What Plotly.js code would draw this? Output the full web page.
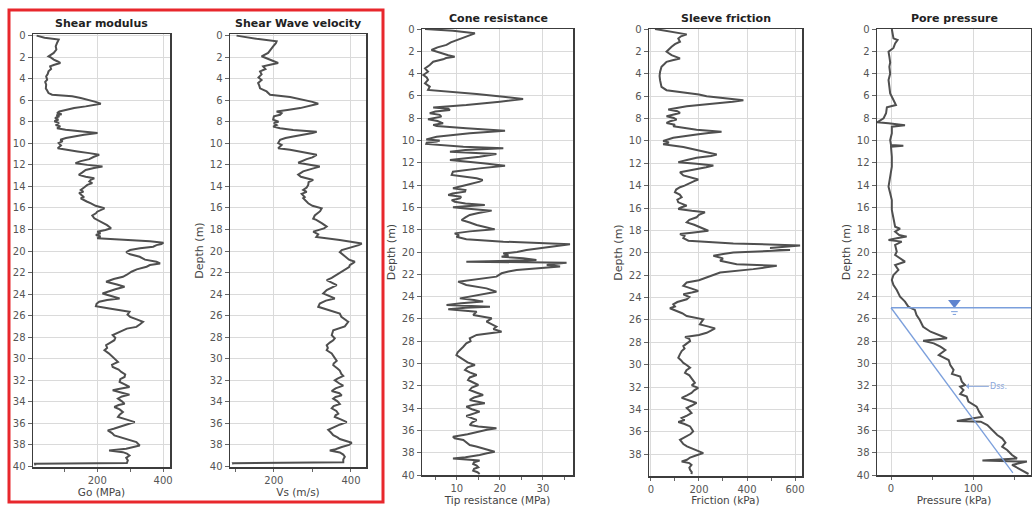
<!DOCTYPE html>
<html><head><meta charset="utf-8">
<script src="https://cdn.plot.ly/plotly-3.0.1.min.js"></script>
<style>html,body{margin:0;padding:0;background:#fff}#chart{width:1032px;height:506px}</style>
</head><body><div id="chart"></div>
<script>
// ---------- DATA ----------
const goDepth = [0,0.2,0.37,0.5,0.68,1.0,1.3,1.61,1.92,2.05,2.23,2.4,2.54,2.7,2.85,3.1,3.32,3.55,3.78,4.1,4.3,4.56,4.9,5.1,5.33,5.49,5.64,5.8,5.95,6.15,6.33,6.45,6.57,6.72,6.88,7.05,7.19,7.3,7.4,7.5,7.65,7.81,7.95,8.12,8.3,8.43,8.6,8.74,8.9,9.05,9.2,9.36,9.5,9.67,9.8,9.98,10.2,10.45,10.6,10.75,10.91,11.07,11.25,11.47,11.65,11.84,12.0,12.16,12.3,12.47,12.7,12.93,13.1,13.24,13.4,13.55,13.7,13.86,14.1,14.33,14.5,14.6,14.79,15.0,15.1,15.26,15.4,15.57,15.8,16.03,16.2,16.35,16.5,16.7,16.96,17.2,17.43,17.6,17.89,18.05,18.2,18.35,18.51,18.65,18.82,18.98,19.1,19.22,19.35,19.45,19.6,19.75,19.91,20.1,20.3,20.53,20.8,21.0,21.15,21.3,21.46,21.7,21.92,22.2,22.39,22.6,22.85,23.1,23.32,23.55,23.78,23.94,24.2,24.4,24.55,24.71,24.9,25.12,25.33,25.5,25.64,25.9,26.11,26.35,26.57,26.8,27.04,27.2,27.35,27.6,27.81,28.05,28.28,28.5,28.74,29.0,29.21,29.5,29.83,30.05,30.29,30.55,30.76,31.0,31.22,31.45,31.69,31.9,32.16,32.4,32.62,32.8,32.93,33.15,33.33,33.5,33.7,33.95,34.17,34.3,34.48,34.7,34.95,35.2,35.41,35.65,35.88,36.1,36.34,36.5,36.65,36.9,37.12,37.43,37.74,38.05,38.2,38.36,38.51,38.67,38.8,38.98,39.2,39.44,39.69,39.75,39.9];
const goVal = [16,40,83,80,78,74,76,68,52,60,68,80,88,70,57,60,52,50,45,48,42,45,44,48,52,63,124,150,170,195,211,190,165,130,104,85,78,92,76,85,72,82,70,84,74,88,78,104,155,201,160,124,105,88,95,83,90,80,119,140,176,206,190,176,150,134,170,216,190,165,155,144,165,191,180,176,185,170,160,150,158,145,152,160,150,158,168,181,195,222,210,200,196,185,191,205,216,230,242,225,200,210,196,210,200,309,360,401,395,380,370,330,300,288,300,329,345,380,391,360,350,320,304,290,278,250,227,260,283,255,227,216,245,268,230,206,198,196,237,270,298,292,300,320,339,330,319,290,278,260,247,255,252,240,227,230,222,235,247,255,263,245,247,265,273,285,283,270,268,285,298,265,247,275,298,275,263,275,283,265,252,268,278,268,263,290,314,290,268,250,232,245,252,283,319,329,310,288,236,278,290,298,288,293,290,11,12];

const vsDepth = [0,0.3,0.53,0.7,0.99,1.3,1.61,1.92,2.1,2.39,2.54,2.7,2.85,3.1,3.32,3.6,3.88,4.12,4.4,4.65,4.9,5.18,5.49,5.7,5.95,6.15,6.33,6.5,6.73,6.9,7.04,7.2,7.35,7.5,7.81,8.0,8.12,8.3,8.45,8.6,8.77,8.93,9.05,9.36,9.5,9.67,9.98,10.15,10.45,10.6,10.9,11.07,11.3,11.47,11.8,12.0,12.16,12.35,12.6,12.9,13.1,13.4,13.6,13.86,14.1,14.33,14.5,14.7,15.0,15.1,15.4,15.57,15.8,16.03,16.3,16.7,17.0,17.1,17.43,17.73,17.9,18.2,18.45,18.7,18.98,19.2,19.3,19.45,19.6,19.75,19.91,20.1,20.3,20.53,20.8,21.0,21.15,21.3,21.5,21.82,22.23,22.5,22.7,23.0,23.16,23.4,23.63,23.94,24.2,24.4,24.6,24.87,25.18,25.33,25.49,25.8,26.1,26.26,26.5,26.57,27.0,27.35,27.6,27.81,28.1,28.28,28.5,28.74,29.0,29.21,29.5,29.7,29.9,30.2,30.45,30.6,30.9,31.1,31.4,31.6,31.85,32.0,32.3,32.5,32.75,33.0,33.2,33.4,33.55,33.7,33.95,34.2,34.4,34.6,34.85,35.1,35.25,35.4,35.65,35.88,36.1,36.34,36.6,36.85,37.1,37.3,37.45,37.8,38.0,38.2,38.4,38.51,38.7,38.9,39.1,39.35,39.6,39.7,39.8];
const vsVal = [103,155,207,205,198,192,185,168,180,198,211,190,172,178,164,168,160,168,159,162,164,181,190,242,276,300,315,295,268,235,207,220,216,200,198,212,200,207,198,216,250,311,300,250,230,216,211,220,211,242,290,311,300,285,263,290,319,300,276,263,270,302,290,289,285,276,285,272,280,276,285,289,300,324,320,306,302,310,325,337,330,302,315,310,371,410,428,420,406,395,376,371,378,384,395,410,405,397,395,380,363,350,337,355,363,350,337,328,345,358,335,319,315,330,345,371,375,380,390,393,384,354,352,350,358,354,345,337,340,337,350,354,358,363,355,354,365,371,375,380,365,358,370,380,360,350,370,376,360,354,365,371,355,350,362,367,360,358,375,389,372,358,341,348,354,365,371,402,395,376,360,345,371,380,384,380,380,94,95];

const qcDepth = [0,0.15,0.39,0.69,0.99,1.2,1.43,1.65,1.88,2.18,2.35,2.48,2.6,2.72,2.93,3.23,3.53,3.83,4.13,4.35,4.57,4.87,5.17,5.47,5.62,5.83,6.07,6.28,6.52,6.82,7.03,7.15,7.26,7.4,7.56,7.7,7.86,8.1,8.25,8.46,8.6,8.7,8.91,9.12,9.36,9.66,9.9,10.0,10.1,10.2,10.31,10.45,10.55,10.7,10.85,11.0,11.21,11.45,11.6,11.75,12.05,12.26,12.5,12.8,13.09,13.25,13.39,13.55,13.69,13.99,14.15,14.29,14.45,14.59,14.75,14.89,15.05,15.19,15.35,15.49,15.65,15.78,15.9,15.99,16.1,16.29,16.5,16.68,16.9,17.13,17.35,17.58,17.8,17.97,18.15,18.33,18.5,18.63,18.86,19.07,19.31,19.52,19.65,19.82,20.0,20.12,20.3,20.42,20.57,20.72,20.87,20.96,21.05,21.17,21.3,21.47,21.61,21.75,21.91,22.21,22.45,22.66,22.96,23.26,23.56,23.7,23.86,24.0,24.16,24.3,24.45,24.6,24.75,24.9,25.0,25.14,25.25,25.35,25.65,25.95,26.25,26.5,26.7,26.9,27.15,27.44,27.74,28.0,28.19,28.5,28.79,29.0,29.24,29.45,29.69,29.9,30.14,30.35,30.58,30.8,31.03,31.25,31.48,31.7,31.93,32.15,32.38,32.6,32.83,33.05,33.27,33.57,33.7,33.87,34.1,34.32,34.5,34.71,34.9,35.07,35.3,35.52,35.65,35.81,35.95,36.11,36.35,36.56,36.7,36.86,37.1,37.31,37.45,37.61,37.91,38.05,38.21,38.4,38.51,38.71,38.85,39.01,39.15,39.31,39.45,39.61,39.75,39.91];
const qcVal = [2.6,9.1,14.2,12.2,9.9,8.6,7.6,5.5,4.1,6.4,8.0,9.5,7.5,6.8,4.5,3.7,2.6,3.3,2.2,3.0,3.3,2.6,3.7,3.3,8.4,14.6,20.8,25.4,20.0,12.2,4.5,8.0,8.4,5.0,3.7,6.0,6.4,3.3,5.5,6.8,4.5,5.3,12.2,21.2,13.0,5.3,2.9,6.0,5.3,3.0,2.9,7.0,11.5,20.8,12.0,8.4,19.2,15.3,12.0,8.4,16.1,21.2,15.3,9.1,8.8,12.0,14.6,16.0,15.3,12.2,10.5,9.1,12.0,11.9,9.0,8.0,11.0,10.7,8.8,9.5,12.0,16.5,12.0,9.1,12.0,18.1,15.0,13.0,12.0,11.1,13.0,14.6,17.0,18.8,13.0,9.5,10.5,9.9,12.2,20.8,36.3,31.6,29.0,26.2,24.0,20.8,22.0,20.4,25.4,28.5,12.2,35.5,33.0,30.9,34.0,29.3,23.9,22.0,20.4,19.2,14.0,10.3,12.2,16.9,19.2,17.0,15.3,12.5,10.7,14.0,16.1,11.0,7.6,17.7,12.0,8.0,12.5,14.6,13.8,18.1,16.9,18.0,19.2,18.5,20.4,14.6,13.0,13.2,12.2,11.5,10.7,10.2,9.9,10.8,11.9,12.5,14.2,12.5,11.9,13.0,14.6,13.0,12.6,14.0,15.0,13.5,13.0,14.5,16.1,14.0,13.0,16.5,14.0,12.2,13.5,15.3,14.0,12.2,13.5,14.6,13.5,13.0,15.0,19.2,17.0,15.3,12.5,9.1,9.5,11.5,12.2,13.0,14.5,16.1,18.8,17.0,15.3,12.0,9.1,15.3,14.0,13.8,14.6,15.0,14.0,13.8,14.8,15.3];

const fsDepth = [0,0.24,0.48,0.65,0.84,1.14,1.35,1.58,2.03,2.33,2.5,2.63,2.8,2.93,3.15,3.38,3.83,4.2,4.57,4.9,5.17,5.47,5.71,5.85,6.01,6.15,6.25,6.37,6.5,6.61,6.75,6.91,7.2,7.35,7.5,7.65,7.8,7.95,8.1,8.25,8.4,8.55,8.7,9.0,9.18,9.3,9.42,9.72,9.85,10.01,10.15,10.31,10.55,10.85,11.05,11.21,11.35,11.51,11.7,11.9,12.05,12.2,12.35,12.5,12.8,13.09,13.3,13.45,13.6,13.78,14.0,14.14,14.35,14.59,14.8,15.04,15.25,15.49,15.65,15.78,15.95,16.08,16.25,16.38,16.6,16.83,17.05,17.28,17.5,17.73,17.9,18.03,18.2,18.33,18.5,18.68,18.92,19.16,19.34,19.45,19.58,19.76,19.97,20.1,20.27,20.5,20.72,21.02,21.17,21.3,21.46,21.76,22.0,22.21,22.45,22.66,22.96,23.2,23.41,23.55,23.71,23.95,24.16,24.4,24.6,24.8,24.96,25.2,25.4,25.65,25.95,26.2,26.4,26.6,26.76,26.95,27.15,27.35,27.53,27.7,27.89,28.1,28.34,28.55,28.79,29.1,29.39,29.6,29.84,30.05,30.28,30.5,30.73,30.95,31.18,31.4,31.63,31.85,32.08,32.3,32.53,32.75,32.97,33.2,33.42,33.65,33.87,34.1,34.32,34.55,34.77,34.95,35.13,35.3,35.52,35.75,35.96,36.2,36.41,36.55,36.71,36.9,37.1,37.3,37.46,37.7,37.91,38.1,38.3,38.5,38.65,38.8,38.95,39.2,39.4,39.6,39.79];
const fsVal = [17,79,149,125,114,121,100,86,65,86,110,121,90,65,55,44,38,36,38,40,44,65,149,200,232,290,336,385,340,288,220,149,72,110,121,90,65,95,107,80,65,100,93,190,294,240,190,93,70,51,75,51,135,204,240,274,250,190,150,114,190,260,230,190,121,135,170,197,180,163,140,121,105,100,120,128,110,114,130,149,125,114,170,225,200,190,160,149,180,204,225,239,170,121,140,135,156,343,621,560,496,579,343,301,260,300,288,357,524,480,426,288,260,232,200,149,135,170,197,170,135,160,149,110,93,100,79,107,130,149,218,210,204,240,267,250,232,200,142,160,163,150,135,140,128,120,114,125,135,150,163,148,142,160,169,175,183,170,197,180,169,150,128,160,190,170,149,160,169,150,128,140,114,140,163,170,176,165,149,135,121,128,135,150,169,190,218,190,163,150,128,160,169,160,163,170,169];

const u2Depth = [0,0.5,0.84,0.99,1.29,1.7,2.03,2.48,3.0,3.38,4.0,4.57,5.2,5.77,6.37,6.82,7.03,7.56,8.01,8.22,8.37,8.46,8.64,8.76,9.36,9.96,10.4,10.46,10.55,11.45,12.35,13.24,14.14,14.74,15.34,16.23,17.13,17.73,17.91,18.18,18.48,18.62,18.77,18.92,19.07,19.37,19.97,20.27,20.87,21.17,21.61,22.06,22.51,22.96,23.41,24.01,24.45,24.9,25.2,25.65,26.1,26.7,27.15,27.6,27.74,27.96,28.19,28.49,28.79,29.24,29.69,30.13,30.58,30.94,31.18,31.63,31.93,32.08,32.38,32.74,32.97,33.42,33.87,34.32,34.77,35.16,35.22,35.52,35.96,36.41,36.71,37.1,37.46,37.76,38.21,38.51,38.71,38.8,39.1,39.4,39.7,39.91];
const u2Val = [1,2,3,8,5,3,-3,-2,-1,-2,-1,-3,-2,-1,3,6,-5,-6,-9,-13,-17,-3,17,1,1,-1,0,15,0,1,1,-1,-3,-1,1,1,3,5,11,5,10,19,7,-3,13,5,7,5,17,5,9,3,1,3,7,11,17,21,29,31,35,39,48,64,68,39,52,60,66,58,70,72,76,74,84,86,90,84,88,84,92,94,104,107,111,80,109,117,123,129,135,139,135,141,147,153,111,165,147,155,163,167];

// Water table / hydrostatic line (Pore pressure panel)
const waterDepth = 25;
const hydroDepth = [25, 39.8];
const hydroPressure = [0, 148];

// ---------- LAYOUT ----------
const W = 1032, H = 506;
const fx = p => p / W, fy = p => 1 - p / H;
const FONT = 'DejaVu Sans, Verdana, sans-serif';
const LINE = '#4f4f4f', GRID = '#dadada', FRAME = '#3c3c3c';

function yax(domTop, domBot, range, title) {
  const a = {
    domain: [fy(domBot), fy(domTop)], range: range, dtick: 2, tick0: 0,
    showgrid: true, gridcolor: GRID, gridwidth: 1, zeroline: false,
    showline: true, mirror: true, linecolor: FRAME, linewidth: 1.5,
    ticks: 'outside', ticklen: 4, tickcolor: '#666', tickwidth: 1,
    tickfont: {family: FONT, size: 10, color: '#555'}, fixedrange: true
  };
  if (title) a.title = {text: title, font: {family: FONT, size: 11, color: '#444'}, standoff: 4};
  return a;
}
function xax(domL, domR, range, dtick, minor, title, anchor) {
  return {
    domain: [fx(domL), fx(domR)], range: range, dtick: dtick, tick0: 0, anchor: anchor,
    showgrid: true, gridcolor: GRID, gridwidth: 1, zeroline: false,
    showline: true, mirror: true, linecolor: FRAME, linewidth: 1.5,
    ticks: 'outside', ticklen: 3, tickcolor: '#666', tickwidth: 1,
    minor: {dtick: minor, tick0: 0, ticks: 'outside', ticklen: 3, tickcolor: '#666', showgrid: false},
    tickfont: {family: FONT, size: 10, color: '#555'},
    title: {text: title, font: {family: FONT, size: 10.5, color: '#444'}, standoff: 4},
    fixedrange: true
  };
}

const lineStyle = {color: LINE, width: 2};
const traces = [
  {x: goVal, y: goDepth, xaxis: 'x', yaxis: 'y', mode: 'lines', line: lineStyle, hoverinfo: 'skip'},
  {x: vsVal, y: vsDepth, xaxis: 'x2', yaxis: 'y2', mode: 'lines', line: lineStyle, hoverinfo: 'skip'},
  {x: qcVal, y: qcDepth, xaxis: 'x3', yaxis: 'y3', mode: 'lines', line: lineStyle, hoverinfo: 'skip'},
  {x: fsVal, y: fsDepth, xaxis: 'x4', yaxis: 'y4', mode: 'lines', line: lineStyle, hoverinfo: 'skip'},
  {x: u2Val, y: u2Depth, xaxis: 'x5', yaxis: 'y5', mode: 'lines', line: lineStyle, hoverinfo: 'skip'},
  {x: hydroPressure, y: hydroDepth, xaxis: 'x5', yaxis: 'y5', mode: 'lines', line: {color: '#7b9fdc', width: 1.3}, hoverinfo: 'skip'},
  {x: [77], y: [24.55], xaxis: 'x5', yaxis: 'y5', mode: 'markers', marker: {symbol: 'triangle-down', size: 11, color: '#5d83cf'}, hoverinfo: 'skip'}
];

const BLUE = '#7b9fdc';
function title(t, x, y) {
  return {text: '<b>' + t + '</b>', xref: 'paper', yref: 'paper', x: fx(x), y: fy(y),
          xanchor: 'center', yanchor: 'middle', showarrow: false, font: {family: FONT, size: 11, color: '#222'}};
}
const layout = {
  width: W, height: H, margin: {l: 0, r: 0, t: 0, b: 0},
  paper_bgcolor: '#fff', plot_bgcolor: '#fff', showlegend: false,
  font: {family: FONT},
  xaxis:  xax(33, 170, [5, 421], 200, 100, 'Go (MPa)', 'y'),
  yaxis:  yax(34, 467, [40.05, -0.15], null),
  xaxis2: xax(230, 366, [86, 439], 200, 100, 'Vs (m/s)', 'y2'),
  yaxis2: Object.assign(yax(34, 467, [40.05, -0.15], 'Depth (m)'), {anchor: 'x2'}),
  xaxis3: xax(422, 573, [1.9, 37], 10, 5, 'Tip resistance (MPa)', 'y3'),
  yaxis3: Object.assign(yax(29, 475, [40, 0], 'Depth (m)'), {anchor: 'x3'}),
  xaxis4: xax(649, 802, [-8, 629], 200, 100, 'Friction (kPa)', 'y4'),
  yaxis4: Object.assign(yax(29, 476, [39.95, 0], 'Depth (m)'), {anchor: 'x4'}),
  xaxis5: xax(877, 1031, [-17, 170], 100, 50, 'Pressure (kPa)', 'y5'),
  yaxis5: Object.assign(yax(29, 475, [40, 0], 'Depth (m)'), {anchor: 'x5'}),
  shapes: [
    {type: 'rect', xref: 'paper', yref: 'paper', x0: fx(9), x1: fx(383), y0: fy(502), y1: fy(10), line: {color: '#e8272c', width: 3}, layer: 'above'},
    {type: 'line', xref: 'x5', yref: 'y5', x0: 0, x1: 170, y0: waterDepth, y1: waterDepth, line: {color: BLUE, width: 1.3}},
    {type: 'line', xref: 'x5', yref: 'y5', x0: 73, x1: 81, y0: 25.35, y1: 25.35, line: {color: BLUE, width: 1}},
    {type: 'line', xref: 'x5', yref: 'y5', x0: 75, x1: 79, y0: 25.6, y1: 25.6, line: {color: BLUE, width: 1}}
  ],
  annotations: [
    title('Shear modulus', 101.5, 24),
    title('Shear Wave velocity', 298, 24),
    title('Cone resistance', 498, 18),
    title('Sleeve friction', 726, 18),
    title('Pore pressure', 954, 18),
    {text: 'Dss.', xref: 'x5', yref: 'y5', x: 91, y: 32.05, axref: 'x5', ayref: 'y5', ax: 131, ay: 32.05,
     showarrow: true, arrowhead: 1, arrowsize: 1, arrowwidth: 1, arrowcolor: '#8aa7dc', font: {family: FONT, size: 8, color: '#8aa7dc'}}
  ]
};

Plotly.newPlot('chart', traces, layout, {staticPlot: true, displayModeBar: false});
</script>
</body></html>
